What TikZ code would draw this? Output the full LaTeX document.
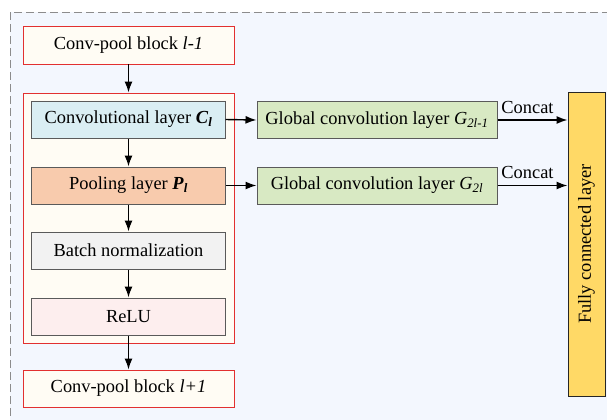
\documentclass[tikz,border=0pt]{standalone}
\usepackage{fontspec}
\setmainfont{Liberation Serif}
\usetikzlibrary{arrows.meta}
\definecolor{bgblue}{HTML}{F3F7FE}
\definecolor{redline}{RGB}{226,48,48}
\definecolor{cream}{HTML}{FFFCF4}
\definecolor{convfill}{HTML}{DAEEF3}
\definecolor{poolfill}{HTML}{F8CBAD}
\definecolor{bnfill}{HTML}{F2F2F2}
\definecolor{relufill}{HTML}{FDEEEE}
\definecolor{greenfill}{HTML}{D8E9C3}
\definecolor{fcfill}{HTML}{FFD966}
\definecolor{grayline}{HTML}{5A5A5A}
\tikzset{
  every node/.style={font=\fontsize{18.4bp}{22bp}\selectfont, inner sep=0pt},
  redbox/.style={draw=redline, line width=0.9bp, fill=cream},
  graybox/.style={draw=grayline, line width=1bp, minimum width=193bp, minimum height=37bp},
  greenbox/.style={draw=grayline, line width=1bp, fill=greenfill, minimum width=240bp, minimum height=37bp},
  arr/.style={line width=1.4bp, -{Latex[length=11bp,width=8bp]}},
}
\begin{document}
\begin{tikzpicture}[x=1bp,y=-1bp]
\useasboundingbox (0,0) rectangle (607,419);
\clip (0,0) rectangle (607,419);
\draw[draw=gray!90, line width=0.9bp, dash pattern=on 8bp off 4bp, fill=bgblue] (10,12) rectangle (640,450);

\node[redbox, minimum width=211bp, minimum height=38bp] (b1) at (128.5,45) {Conv-pool block \textit{l-1}};
\node[redbox, minimum width=211bp, minimum height=250bp] (outer) at (128.5,218) {};
\node[graybox, fill=convfill] (conv) at (128.5,119.5) {Convolutional layer \textbf{\textit{C}}\textsubscript{\textbf{\textit{l}}}};
\node[graybox, fill=poolfill] (pool) at (128.5,185.5) {Pooling layer \textbf{\textit{P}}\textsubscript{\textbf{\textit{l}}}};
\node[graybox, fill=bnfill] (bn) at (128.5,250.5) {Batch normalization};
\node[graybox, fill=relufill] (relu) at (128.5,316.5) {ReLU};
\node[redbox, minimum width=211bp, minimum height=37bp] (b2) at (128.5,388.5) {Conv-pool block \textit{l+1}};

\node[greenbox] (g1) at (377,120) {Global convolution layer \textit{G}\textsubscript{\textit{2l-1}}};
\node[greenbox] (g2) at (377,185.5) {Global convolution layer \textit{G}\textsubscript{\textit{2l}}};

\node[draw=black!85, line width=1bp, fill=fcfill, rotate=90, minimum width=304bp, minimum height=37bp] (fc) at (586.5,244) {Fully connected layer};

\draw[arr] (b1.south) -- (outer.north);
\draw[arr] (conv.south) -- (pool.north);
\draw[arr] (pool.south) -- (bn.north);
\draw[arr] (bn.south) -- (relu.north);
\draw[arr] (relu.south) -- (b2.north);
\draw[arr] (conv.east) -- (g1.west);
\draw[arr] (pool.east) -- (g2.west);
\draw[arr] (g1.east) -- node[above=6bp, xshift=-5bp] (c1) {Concat} (g1.east -| fc.north);
\draw[arr] (g2.east) -- node[above=6bp, xshift=-5bp] (c2) {Concat} (g2.east -| fc.north);
\end{tikzpicture}
\end{document}
